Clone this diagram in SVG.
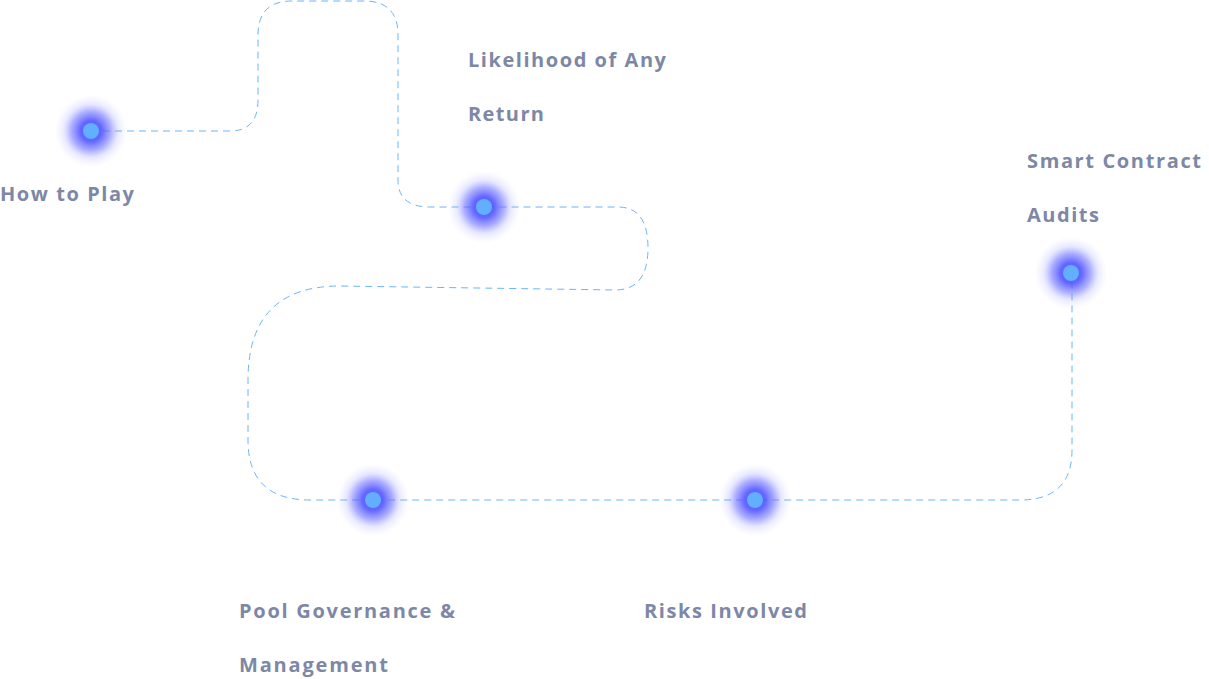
<svg xmlns="http://www.w3.org/2000/svg" width="1209" height="679" viewBox="0 0 1209 679">
<defs>
<radialGradient id="glow">
<stop offset="0" stop-color="#4a4dff" stop-opacity="1"/>
<stop offset="0.3" stop-color="#5558ff" stop-opacity="0.9"/>
<stop offset="0.55" stop-color="#6a6dff" stop-opacity="0.55"/>
<stop offset="0.75" stop-color="#8d90ff" stop-opacity="0.2"/>
<stop offset="1" stop-color="#b0b2ff" stop-opacity="0"/>
</radialGradient>
</defs>
<style>
.lbl{font-family:"Open Sans","Liberation Sans",sans-serif;font-weight:700;font-size:20px;fill:#7d87a6}
.link{fill:none;stroke:#6ab4ff;stroke-width:1;stroke-dasharray:7 5}
.halo{fill:url(#glow)}
.dot{fill:#62afff}
</style>
<rect width="1209" height="679" fill="#ffffff"/>
<g id="connectors">
<path class="link" d="M91,131 H230 Q258,131 258,100 V35 Q258,1 292,1 H364 Q398,1 398,35 V180 Q398,207 430,207 H618 Q648,207 648,248 Q648,290 615,290 L340,286 Q248,286 248,380 V440 Q248,500 310,500 H1020 Q1072,500 1072,450 V273"/>
</g>
<g id="node-how-to-play">
<circle class="halo" cx="91" cy="131" r="36"/>
<circle class="dot" cx="91" cy="131" r="8"/>
<text class="lbl" x="0" y="201" textLength="134" lengthAdjust="spacing">How to Play</text>
</g>
<g id="node-likelihood">
<circle class="halo" cx="484" cy="207" r="36"/>
<circle class="dot" cx="484" cy="207" r="8"/>
<text class="lbl" x="468" y="67" textLength="198" lengthAdjust="spacing">Likelihood of Any</text>
<text class="lbl" x="468" y="121" textLength="76" lengthAdjust="spacing">Return</text>
</g>
<g id="node-pool">
<circle class="halo" cx="373" cy="500" r="36"/>
<circle class="dot" cx="373" cy="500" r="8"/>
<text class="lbl" x="239" y="618" textLength="216" lengthAdjust="spacing">Pool Governance &amp;</text>
<text class="lbl" x="239" y="672" textLength="149" lengthAdjust="spacing">Management</text>
</g>
<g id="node-risks">
<circle class="halo" cx="755" cy="500" r="36"/>
<circle class="dot" cx="755" cy="500" r="8"/>
<text class="lbl" x="644" y="618" textLength="163" lengthAdjust="spacing">Risks Involved</text>
</g>
<g id="node-audits">
<circle class="halo" cx="1071" cy="273" r="36"/>
<circle class="dot" cx="1071" cy="273" r="8"/>
<text class="lbl" x="1027" y="168" textLength="174" lengthAdjust="spacing">Smart Contract</text>
<text class="lbl" x="1027" y="222" textLength="72" lengthAdjust="spacing">Audits</text>
</g>
</svg>
